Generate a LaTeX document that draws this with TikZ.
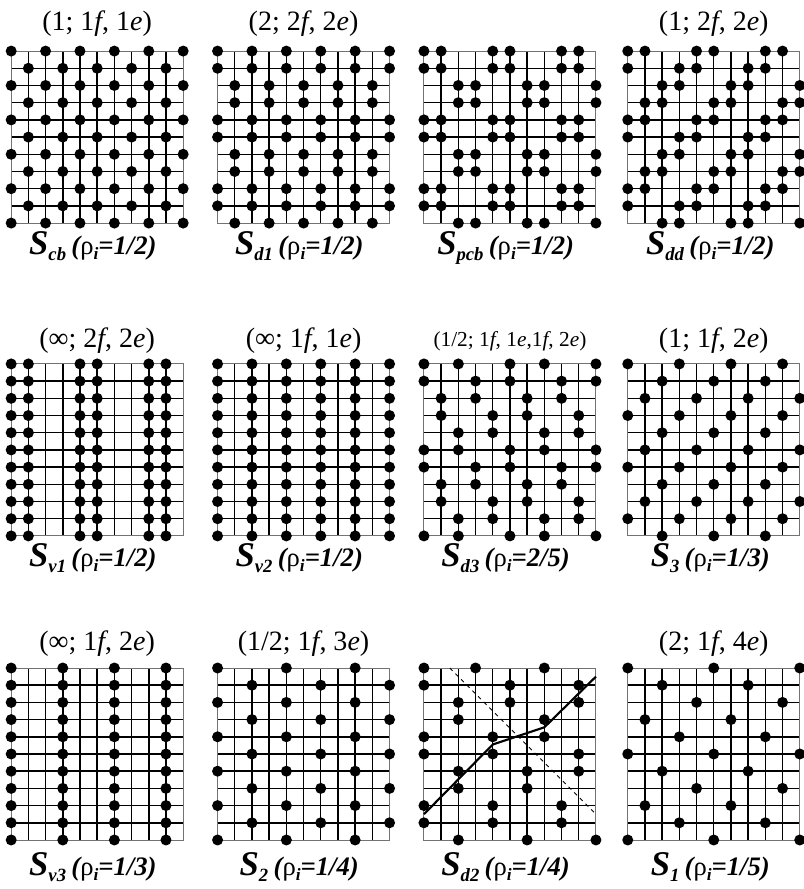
\documentclass[tikz,border=0pt]{standalone}
\usepackage{fontspec}
\setmainfont{Liberation Serif}
\usepackage{tikz}

% one 10x10 lattice with its top left corner at (#1,#2); dot where #3 is true
\newcommand{\lattice}[3]{%
  \begin{scope}[shift={(#1,#2)}]
    \foreach \k in {1,...,9} {
      \draw[gridline] (\k,0) -- (\k,10);
      \draw[gridline] (0,\k) -- (10,\k);
    }
    \draw[gridframe] (0,0) rectangle (10,10);
    \foreach \i in {0,...,10} {
      \foreach \j in {0,...,10} {
        \pgfmathtruncatemacro{\hit}{#3}
        \ifnum\hit=1 \fill (\i,\j) circle[radius=0.32]; \fi
      }
    }
  \end{scope}}
% label under a lattice
\newcommand{\slbl}[2]{{\fontsize{26}{28}\selectfont\bfseries\itshape S}\raisebox{-0.5ex}{\fontsize{14}{15}\selectfont\bfseries\itshape #1}\hspace{0.2em}{\bfseries\itshape(}ρ\raisebox{-0.4ex}{\fontsize{13}{14}\selectfont\bfseries\itshape i}{\bfseries\itshape =#2)}}

\begin{document}
\begin{tikzpicture}[x=12.9pt, y=-12.9pt,
  gridline/.style={line width=1.1pt},
  gridframe/.style={line width=0.7pt,black!55},
  ttl/.style={font=\fontsize{21}{23}\selectfont,inner sep=0pt},
  lbl/.style={font=\fontsize{20}{22}\selectfont,inner sep=0pt,anchor=base}]
  \useasboundingbox (0,0) rectangle (46.69,51.69);
  % Top row
  \lattice{0.65}{2.97}{mod(\i+\j,2)==0}
  \lattice{12.65}{2.97}{mod(\i+floor(\j/2),2)==0}
  \lattice{24.65}{2.97}{mod(floor(\i/2)+floor(\j/2),2)==0}
  \lattice{36.5}{2.97}{mod(\i+\j,4)<2}
  \node[ttl] (t-cb) at (5.65,1.4) {(1; 1\textit{f}, 1\textit{e})};
  \node[ttl] (t-d1) at (17.65,1.4) {(2; 2\textit{f}, 2\textit{e})};
  \node[ttl] (t-dd) at (41.5,1.4) {(1; 2\textit{f}, 2\textit{e})};
  \node[lbl] (l-cb) at (5.4,14.8) {\slbl{cb}{1/2}};
  \node[lbl] (l-d1) at (17.4,14.8) {\slbl{d1}{1/2}};
  \node[lbl] (l-pcb) at (29.4,14.8) {\slbl{pcb}{1/2}};
  \node[lbl] (l-dd) at (41.3,14.8) {\slbl{dd}{1/2}};
  % Middle row
  \lattice{0.65}{21.16}{mod(\i,4)<2}
  \lattice{12.65}{21.16}{mod(\i,2)==0}
  \lattice{24.65}{21.16}{mod(2*\i-\j+11,5)<2}
  \lattice{36.5}{21.16}{mod(\i+\j,3)==0}
  \node[ttl] (t-v1) at (5.65,19.83) {(∞; 2\textit{f}, 2\textit{e})};
  \node[ttl] (t-v2) at (17.65,19.83) {(∞; 1\textit{f}, 1\textit{e})};
  \node[ttl,font=\fontsize{16}{18}\selectfont] (t-d3) at (29.65,19.83) {(1/2; 1\textit{f}, 1\textit{e},1\textit{f}, 2\textit{e})};
  \node[ttl] (t-3) at (41.5,19.83) {(1; 1\textit{f}, 2\textit{e})};
  \node[lbl] (l-v1) at (5.4,32.95) {\slbl{v1}{1/2}};
  \node[lbl] (l-v2) at (17.4,32.95) {\slbl{v2}{1/2}};
  \node[lbl] (l-d3) at (29.4,32.95) {\slbl{d3}{2/5}};
  \node[lbl] (l-3) at (41.3,32.95) {\slbl{3}{1/3}};
  % Bottom row
  \lattice{0.65}{38.84}{mod(\i,3)==0}
  \lattice{12.65}{38.84}{mod(\i+2*\j,4)==0}
  \lattice{24.65}{38.84}{0}
  \lattice{36.5}{38.84}{mod(\i+3*\j,5)==0}
  \begin{scope}[shift={(24.65,38.84)}]
    \foreach \i/\j in {0/0,3/0,7/0, 0/1,5/1,9/1, 2/2,5/2,9/2, 2/3,7/3,
      0/4,4/4,7/4, 0/5,4/5,9/5, 2/6,6/6,9/6, 2/7,6/7,
      0/8,4/8,8/8, 0/9,4/9,8/9, 2/10,6/10,10/10}
      \fill (\i,\j) circle[radius=0.32];
    \draw[line width=1.6pt] (0,8.5) -- (4,4.45) -- (7,3.45) -- (10,0.5);
    \draw[dashed,line width=0.6pt] (1.5,0) -- (10,8.5);
  \end{scope}
  \node[ttl] (t-v3) at (5.65,37.44) {(∞; 1\textit{f}, 2\textit{e})};
  \node[ttl] (t-2) at (17.65,37.44) {(1/2; 1\textit{f}, 3\textit{e})};
  \node[ttl] (t-1) at (41.5,37.44) {(2; 1\textit{f}, 4\textit{e})};
  \node[lbl] (l-v3) at (5.4,50.9) {\slbl{v3}{1/3}};
  \node[lbl] (l-2) at (17.4,50.9) {\slbl{2}{1/4}};
  \node[lbl] (l-d2) at (29.4,50.9) {\slbl{d2}{1/4}};
  \node[lbl] (l-1) at (41.3,50.9) {\slbl{1}{1/5}};
\end{tikzpicture}
\end{document}
